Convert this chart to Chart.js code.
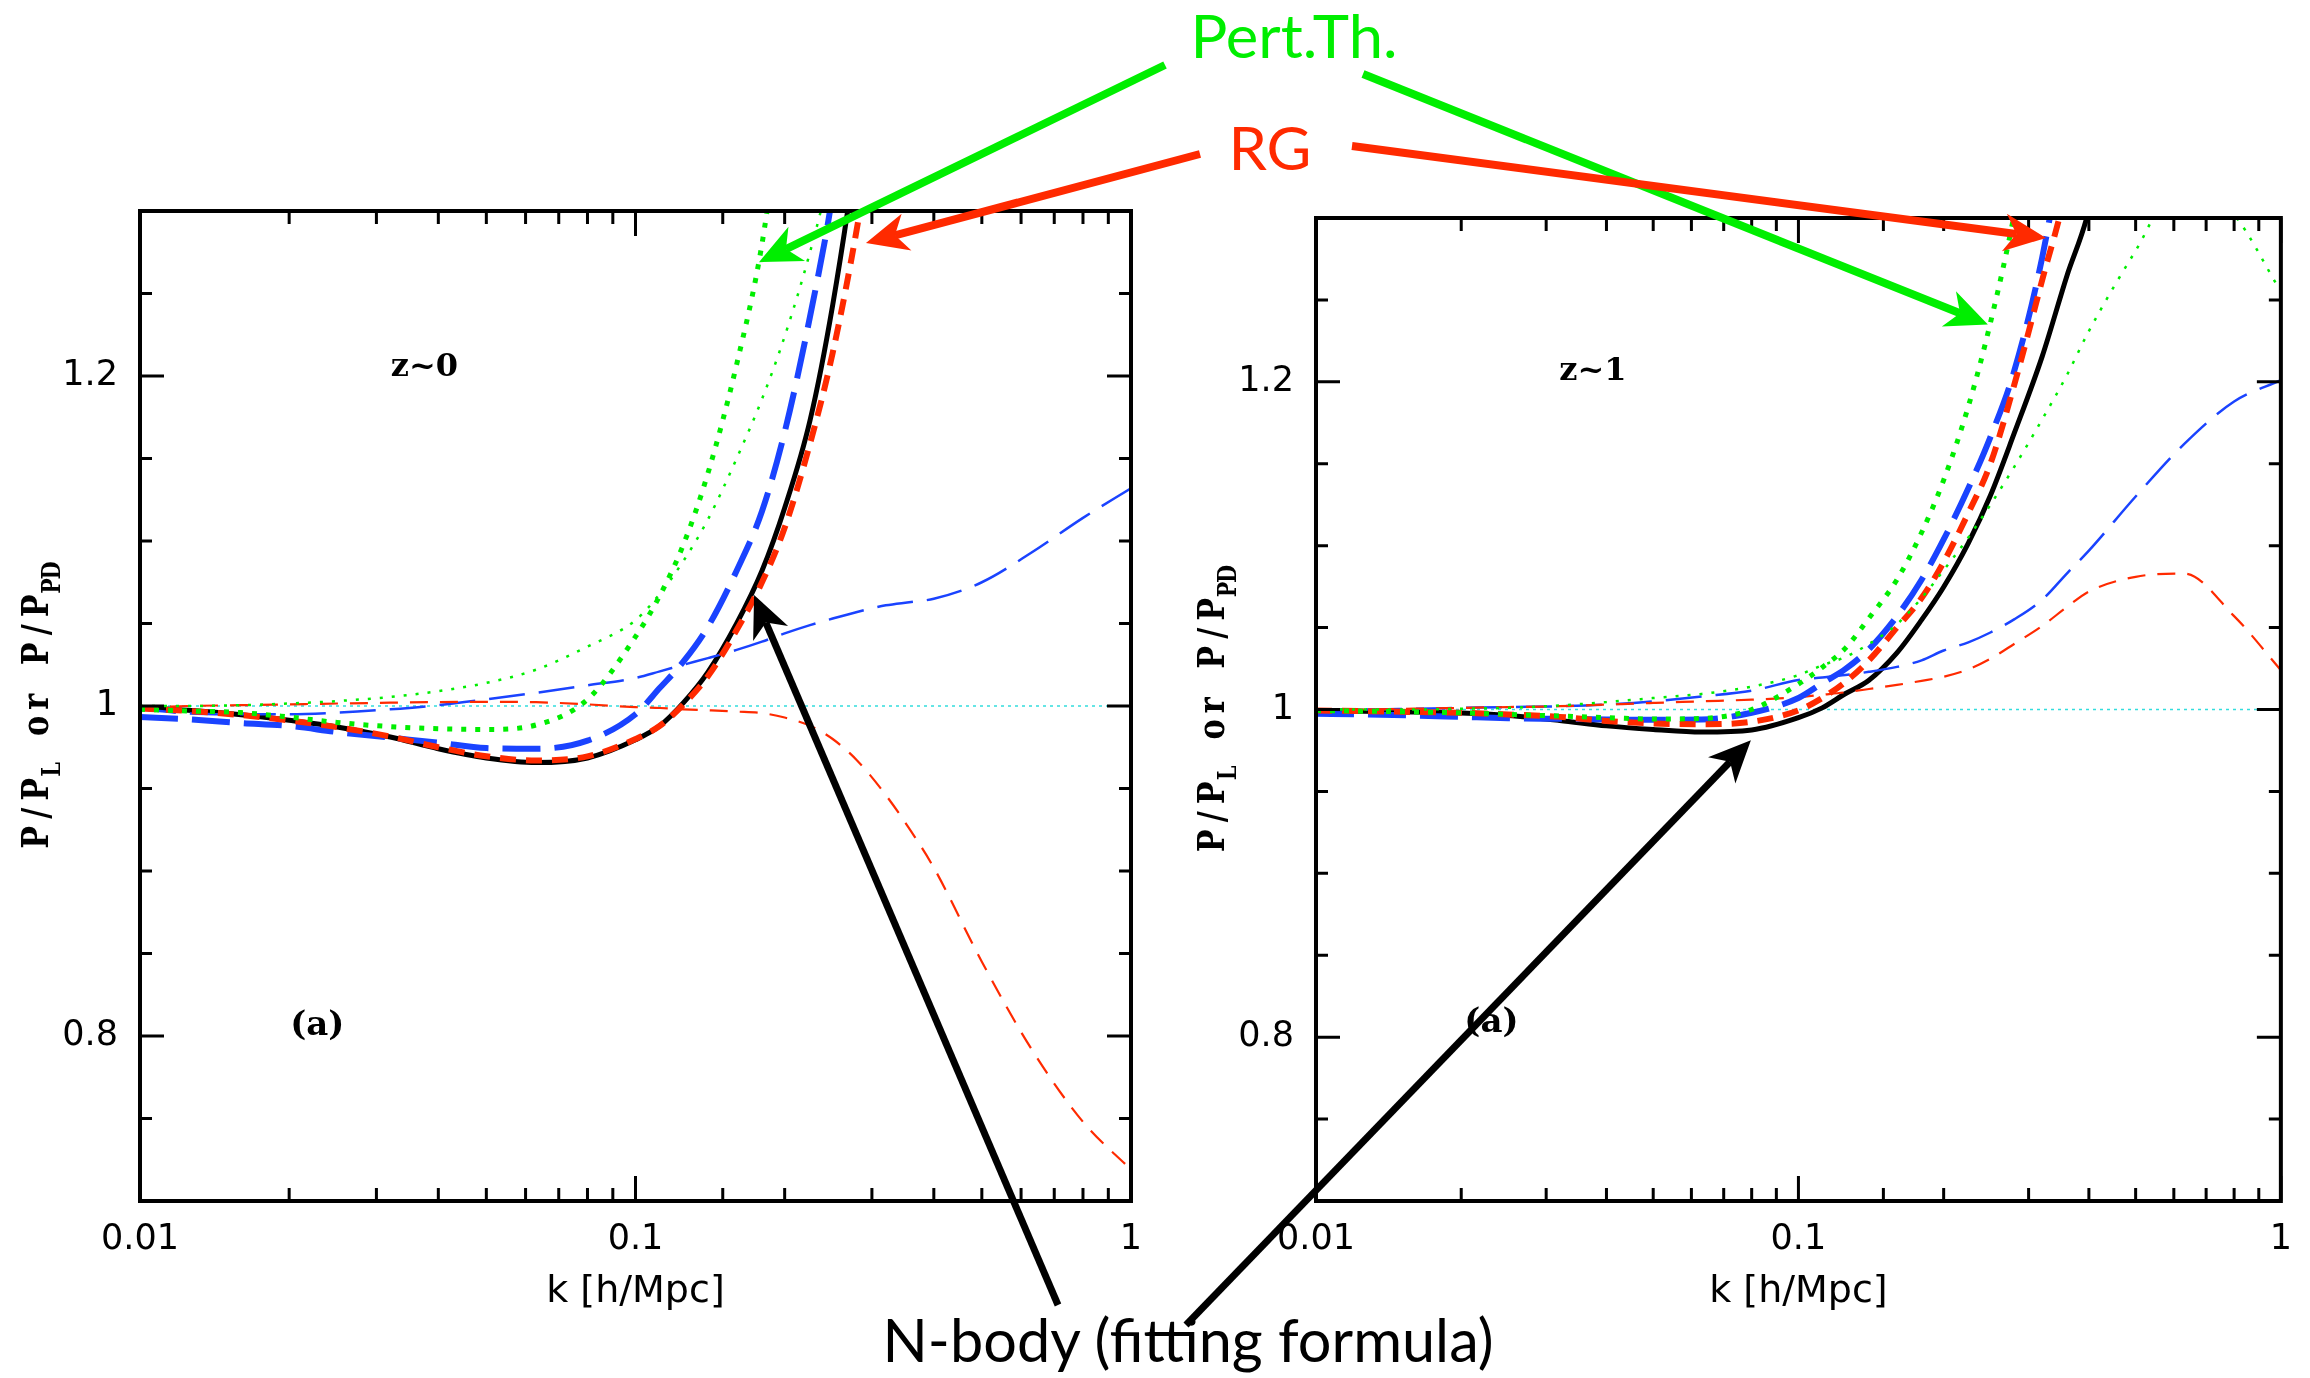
<!DOCTYPE html>
<html>
<head>
<meta charset="utf-8">
<title>P/PL ratio</title>
<script src="https://cdn.jsdelivr.net/npm/chart.js@4.4.1/dist/chart.umd.min.js"></script>
<style>
  html, body { margin: 0; padding: 0; background: #fff; }
  #wrap { position: relative; width: 2310px; height: 1378px; overflow: hidden; background: #fff; }
  #wrap canvas { position: absolute; top: 0; }
  #leftChart { left: 0; }
  #rightChart { left: 1150px; }
  #notes { position: absolute; left: 0; top: 0; }
</style>
</head>
<body>
<div id="wrap">
  <canvas id="leftChart" width="1200" height="1378"></canvas>
  <canvas id="rightChart" width="1160" height="1378"></canvas>
  <svg id="notes" width="2310" height="1378" xmlns="http://www.w3.org/2000/svg"></svg>
</div>
<script>
// k [h/Mpc] sample points shared by every curve
const kGrid = [0.01, 0.0125, 0.016, 0.02, 0.025, 0.032, 0.04, 0.05, 0.063, 0.08,
  0.1, 0.112, 0.125, 0.14, 0.16, 0.18, 0.2, 0.225, 0.25, 0.28,
  0.32, 0.36, 0.4, 0.5, 0.63, 0.8, 1.0];

// ---- z~0 panel ----
const nbodyZ0 = [0.999, 0.9974, 0.9947, 0.9913, 0.9873, 0.9812, 0.9741, 0.9685, 0.9657, 0.9685,
  0.9795, 0.988, 1.002, 1.0205, 1.05, 1.082, 1.12, 1.173, 1.243, 1.34,
  1.48, null, null, null, null, null, null];
const rgThickZ0 = [0.9985, 0.997, 0.9945, 0.9912, 0.9872, 0.9815, 0.975, 0.9695, 0.967, 0.9695,
  0.98, 0.988, 1.001, 1.018, 1.046, 1.075, 1.108, 1.159, 1.214, 1.29,
  1.40, 1.52, null, null, null, null, null];
const blueThickZ0 = [0.9933, 0.9919, 0.9897, 0.9879, 0.9842, 0.9808, 0.9778, 0.9745, 0.9741, 0.979,
  0.995, 1.011, 1.027, 1.048, 1.082, 1.118, 1.166, 1.236, 1.31, 1.42,
  null, null, null, null, null, null, null];
const ptThickZ0 = [0.998, 0.997, 0.996, 0.9933, 0.990, 0.9875, 0.9862, 0.9858, 0.9885, 1.004,
  1.042, 1.067, 1.098, 1.141, 1.207, 1.28, 1.38, null, null, null,
  null, null, null, null, null, null, null];
const ptThinZ0 = [1.0, 1.0, 1.0005, 1.0015, 1.003, 1.0055, 1.009, 1.014, 1.022, 1.036,
  1.052, 1.068, 1.088, 1.113, 1.15, 1.186, 1.224, 1.275, 1.33, 1.40,
  null, null, null, null, null, null, null];
const blueThinZ0 = [0.998, 0.9955, 0.995, 0.995, 0.996, 0.998, 1.0005, 1.004, 1.008, 1.0125,
  1.017, 1.021, 1.025, 1.029, 1.034, 1.039, 1.044, 1.049, 1.053, 1.057,
  1.061, 1.063, 1.065, 1.075, 1.093, 1.114, 1.132];
const rgThinZ0 = [0.999, 1.0, 1.0005, 1.001, 1.0015, 1.002, 1.0024, 1.0025, 1.0023, 1.001,
  0.9993, 0.9988, 0.998, 0.9974, 0.9966, 0.9957, 0.993, 0.988, 0.980, 0.967,
  0.946, 0.924, 0.902, 0.845, 0.792, 0.748, 0.719];

// ---- z~1 panel ----
const nbodyZ1 = [0.9994, 0.999, 0.9984, 0.9978, 0.9963, 0.9933, 0.990, 0.9878, 0.9862, 0.9875,
  0.995, 1.001, 1.0096, 1.0179, 1.0346, 1.0547, 1.0748, 1.1016, 1.1306, 1.1685,
  1.2154, 1.2645, 1.305, 1.45, null, null, null];
const rgThickZ1 = [0.9994, 0.999, 0.9985, 0.998, 0.997, 0.9955, 0.993, 0.9915, 0.991, 0.9925,
  0.9995, 1.007, 1.0167, 1.03, 1.05, 1.068, 1.09, 1.12, 1.15, 1.198,
  1.262, 1.32, 1.40, null, null, null, null];
const blueThickZ1 = [0.9974, 0.997, 0.9963, 0.9955, 0.9947, 0.9943, 0.9939, 0.9937, 0.9939, 0.998,
  1.007, 1.016, 1.0246, 1.0368, 1.0569, 1.0792, 1.1038, 1.135, 1.1663, 1.2065,
  1.2757, 1.36, null, null, null, null, null];
const ptThickZ1 = [0.9994, 0.999, 0.9985, 0.998, 0.997, 0.996, 0.995, 0.9942, 0.9945, 1.0,
  1.0155, 1.0257, 1.0373, 1.0558, 1.0792, 1.108, 1.14, 1.185, 1.236, 1.302,
  1.40, null, null, null, null, null, null];
const ptThinZ1 = [1.0, 1.0, 1.0, 1.0005, 1.001, 1.0025, 1.0045, 1.007, 1.0095, 1.014,
  1.021, 1.027, 1.032, 1.04, 1.052, 1.068, 1.085, 1.105, 1.125, 1.148,
  1.177, 1.204, 1.231, 1.28, 1.325, 1.302, 1.255];
const blueThinZ1 = [1.0, 1.0, 1.0005, 1.001, 1.0015, 1.002, 1.003, 1.005, 1.008, 1.0115,
  1.018, 1.0195, 1.021, 1.023, 1.026, 1.03, 1.036, 1.041, 1.047, 1.055,
  1.067, 1.083, 1.097, 1.13, 1.162, 1.188, 1.201];
const rgThinZ1 = [1.0, 1.0, 1.0005, 1.001, 1.0015, 1.002, 1.003, 1.004, 1.005, 1.006,
  1.0075, 1.009, 1.0105, 1.0125, 1.015, 1.0175, 1.02, 1.0245, 1.031, 1.04,
  1.051, 1.0625, 1.072, 1.081, 1.083, 1.057, 1.024];

// linear reference P/PL = 1
const linearK = [0.01, 1.0];
const linearRatio = [1, 1];

// axis settings
const kMin = 0.01, kMax = 1;
const ratioMin = 0.7, ratioMax = 1.3, ratioStep = 0.05;

const GREEN = '#00ee00', RED = '#ff2a00', BLUE = '#1a43ff';

function line(values, color, width, dash, ks) {
  const xs = ks || kGrid;
  return {
    data: xs.map((k, i) => ({ x: k, y: values[i] })),
    borderColor: color,
    borderWidth: width,
    borderDash: dash,
    pointRadius: 0,
    fill: false,
    cubicInterpolationMode: 'monotone',
    spanGaps: false,
    clip: 0
  };
}

function panelDatasets(s) {
  // first dataset is drawn on top
  return [
    line(s.ptThick, GREEN, 5, [5, 9]),
    line(s.ptThin, GREEN, 2.5, [3, 9]),
    line(s.rgThick, RED, 6, [16, 10]),
    line(s.blueThick, BLUE, 6, [38, 14]),
    line(s.rgThin, RED, 2.2, [18, 12]),
    line(s.blueThin, BLUE, 2.5, [36, 14]),
    line(s.nbody, '#000', 5, []),
    line(linearRatio, '#33dddd', 1.5, [3, 4], linearK)
  ];
}

function isDecade(v) {
  const l = Math.log10(v);
  return Math.abs(l - Math.round(l)) < 1e-6;
}
function isFifth(v) {
  return Math.abs(v * 5 - Math.round(v * 5)) < 1e-6;
}

// typewriter-like y title: every glyph sits in a fixed-width cell
function drawYTitle(ctx, bx, cy) {
  const cells = [];
  'P/P'.split('').forEach(c => cells.push([c, 0]));
  cells.push(['L', 1]);
  ' or P/P'.split('').forEach(c => cells.push([c, 0]));
  cells.push(['P', 1], ['D', 1]);
  const bigW = 24, smallW = 15.5;
  const big = 'bold 38px "DejaVu Serif", serif';
  const small = 'bold 26px "DejaVu Serif", serif';
  const total = cells.reduce((s, c) => s + (c[1] ? smallW : bigW), 0);
  ctx.save();
  ctx.translate(bx, cy);
  ctx.rotate(-Math.PI / 2);
  ctx.fillStyle = '#000';
  ctx.textBaseline = 'alphabetic';
  ctx.textAlign = 'center';
  let x = -total / 2;
  cells.forEach(([c, s]) => {
    const w = s ? smallW : bigW;
    ctx.save();
    ctx.translate(x + w / 2, s ? 12 : 0);
    ctx.scale(0.8, 1);
    ctx.font = s ? small : big;
    ctx.fillText(c, 0, 0);
    ctx.restore();
    x += w;
  });
  ctx.restore();
}

// frame, inward ticks, axis titles and panel labels
const framePlugin = {
  id: 'frame',
  afterDraw(chart, args, opts) {
    const { ctx, chartArea: a } = chart;
    const xs = chart.scales.x, ys = chart.scales.y;
    ctx.save();
    ctx.strokeStyle = '#000';
    ctx.lineWidth = 3;
    ctx.beginPath();
    xs.ticks.forEach(t => {
      const px = xs.getPixelForValue(t.value);
      const len = isDecade(t.value) ? 25 : 13;
      ctx.moveTo(px, a.bottom); ctx.lineTo(px, a.bottom - len);
      ctx.moveTo(px, a.top); ctx.lineTo(px, a.top + len);
    });
    ys.ticks.forEach(t => {
      const py = ys.getPixelForValue(t.value);
      const len = isFifth(t.value) ? 24 : 12;
      ctx.moveTo(a.left, py); ctx.lineTo(a.left + len, py);
      ctx.moveTo(a.right, py); ctx.lineTo(a.right - len, py);
    });
    ctx.stroke();
    ctx.lineWidth = 4;
    ctx.strokeRect(a.left, a.top, a.right - a.left, a.bottom - a.top);

    ctx.fillStyle = '#000';
    ctx.textAlign = 'center';
    ctx.textBaseline = 'middle';
    ctx.font = '38px "DejaVu Sans", sans-serif';
    ctx.fillText('k [h/Mpc]', (a.left + a.right) / 2, a.bottom + 91);

    drawYTitle(ctx, a.left - 92, (a.top + a.bottom) / 2);

    ctx.font = 'bold 32px "DejaVu Serif", serif';
    ctx.fillText(opts.zLabel, xs.getPixelForValue(opts.zPos[0]), ys.getPixelForValue(opts.zPos[1]));
    ctx.font = 'bold 34px "DejaVu Serif", serif';
    ctx.fillText('(a)', xs.getPixelForValue(opts.aPos[0]), ys.getPixelForValue(opts.aPos[1]));
    ctx.restore();
  }
};

function makePanel(canvasId, series, cfg) {
  return new Chart(document.getElementById(canvasId), {
    type: 'line',
    data: { datasets: panelDatasets(series) },
    plugins: [framePlugin],
    options: {
      responsive: false,
      animation: false,
      events: [],
      layout: { padding: cfg.padding },
      plugins: {
        legend: { display: false },
        tooltip: { enabled: false },
        frame: { zLabel: cfg.zLabel, zPos: cfg.zPos, aPos: cfg.aPos }
      },
      scales: {
        x: {
          type: 'logarithmic',
          min: kMin,
          max: kMax,
          grid: { display: false, drawTicks: false },
          border: { display: false },
          afterFit: s => { s.height = 177; },
          ticks: {
            autoSkip: false,
            maxRotation: 0,
            padding: 18,
            color: '#000',
            font: { family: 'DejaVu Sans', size: 35 },
            callback: v => (isDecade(v) ? String(Number(v.toPrecision(3))) : '')
          }
        },
        y: {
          type: 'linear',
          min: ratioMin,
          max: ratioMax,
          grid: { display: false, drawTicks: false },
          border: { display: false },
          afterFit: s => { s.width = cfg.yWidth; },
          ticks: {
            stepSize: ratioStep,
            autoSkip: false,
            padding: 22,
            color: '#000',
            font: { family: 'DejaVu Sans', size: 35 },
            callback: v => (isFifth(v) && v > 0.75 && v < 1.25 ? String(Math.round(v * 10) / 10) : '')
          }
        }
      }
    }
  });
}

const leftChart = makePanel('leftChart', {
  nbody: nbodyZ0, rgThick: rgThickZ0, blueThick: blueThickZ0, ptThick: ptThickZ0,
  ptThin: ptThinZ0, blueThin: blueThinZ0, rgThin: rgThinZ0
}, {
  padding: { left: 0, top: 211, right: 69, bottom: 0 },
  yWidth: 140,
  zLabel: 'z~0', zPos: [0.0375, 1.205], aPos: [0.0228, 0.806]
});

const rightChart = makePanel('rightChart', {
  nbody: nbodyZ1, rgThick: rgThickZ1, blueThick: blueThickZ1, ptThick: ptThickZ1,
  ptThin: ptThinZ1, blueThin: blueThinZ1, rgThin: rgThinZ1
}, {
  padding: { left: 0, top: 218, right: 16, bottom: 0 },
  yWidth: 166,
  zLabel: 'z~1', zPos: [0.0375, 1.206], aPos: [0.0231, 0.8085]
});

// ---- annotations (labels in page px, arrow tips in data coords) ----
const noteLabels = [
  { text: 'Pert.Th.', color: GREEN, x: 1294, y: 58, width: 207 },
  { text: 'RG', color: RED, x: 1270, y: 170, width: 83 },
  { text: 'N-body (fitting formula)', color: '#000', x: 1188, y: 1362, width: 611 }
];
const noteArrows = [
  { color: GREEN, width: 8, from: [1165, 65], panel: 'left', to: [0.1775, 1.269] },
  { color: GREEN, width: 8, from: [1363, 74], panel: 'right', to: [0.247, 1.235] },
  { color: RED, width: 8, from: [1200, 154], panel: 'left', to: [0.2918, 1.2806] },
  { color: RED, width: 8, from: [1352, 146], panel: 'right', to: [0.326, 1.2878] },
  { color: '#000', width: 7, from: [1058, 1305], panel: 'left', to: [0.1735, 1.0673] },
  { color: '#000', width: 7, from: [1186, 1325], panel: 'right', to: [0.0797, 0.9813] }
];

const NS = 'http://www.w3.org/2000/svg';
const svg = document.getElementById('notes');
function svgEl(tag, attrs, text) {
  const el = document.createElementNS(NS, tag);
  Object.keys(attrs).forEach(k => el.setAttribute(k, attrs[k]));
  if (text) el.textContent = text;
  svg.appendChild(el);
  return el;
}

const panels = { left: { chart: leftChart, dx: 0 }, right: { chart: rightChart, dx: 1150 } };
noteArrows.forEach(a => {
  const p = panels[a.panel];
  const tx = p.dx + p.chart.scales.x.getPixelForValue(a.to[0]);
  const ty = p.chart.scales.y.getPixelForValue(a.to[1]);
  const [fx, fy] = a.from;
  const len = Math.hypot(tx - fx, ty - fy);
  const ux = (tx - fx) / len, uy = (ty - fy) / len;
  const hl = 42, hw = 19, notch = 30;
  const bx = tx - ux * hl, by = ty - uy * hl;
  const nx = tx - ux * notch, ny = ty - uy * notch;
  svgEl('line', { x1: fx, y1: fy, x2: nx, y2: ny, stroke: a.color, 'stroke-width': a.width });
  const pts = [[tx, ty], [bx - uy * hw, by + ux * hw], [nx, ny], [bx + uy * hw, by - ux * hw]];
  svgEl('polygon', { points: pts.map(q => q.join(',')).join(' '), fill: a.color });
});

noteLabels.forEach(n => {
  svgEl('text', {
    x: n.x, y: n.y, fill: n.color, 'text-anchor': 'middle',
    'font-family': 'Lato, "Open Sans", sans-serif', 'font-size': 60,
    textLength: n.width, lengthAdjust: 'spacingAndGlyphs'
  }, n.text);
});
</script>
</body>
</html>
